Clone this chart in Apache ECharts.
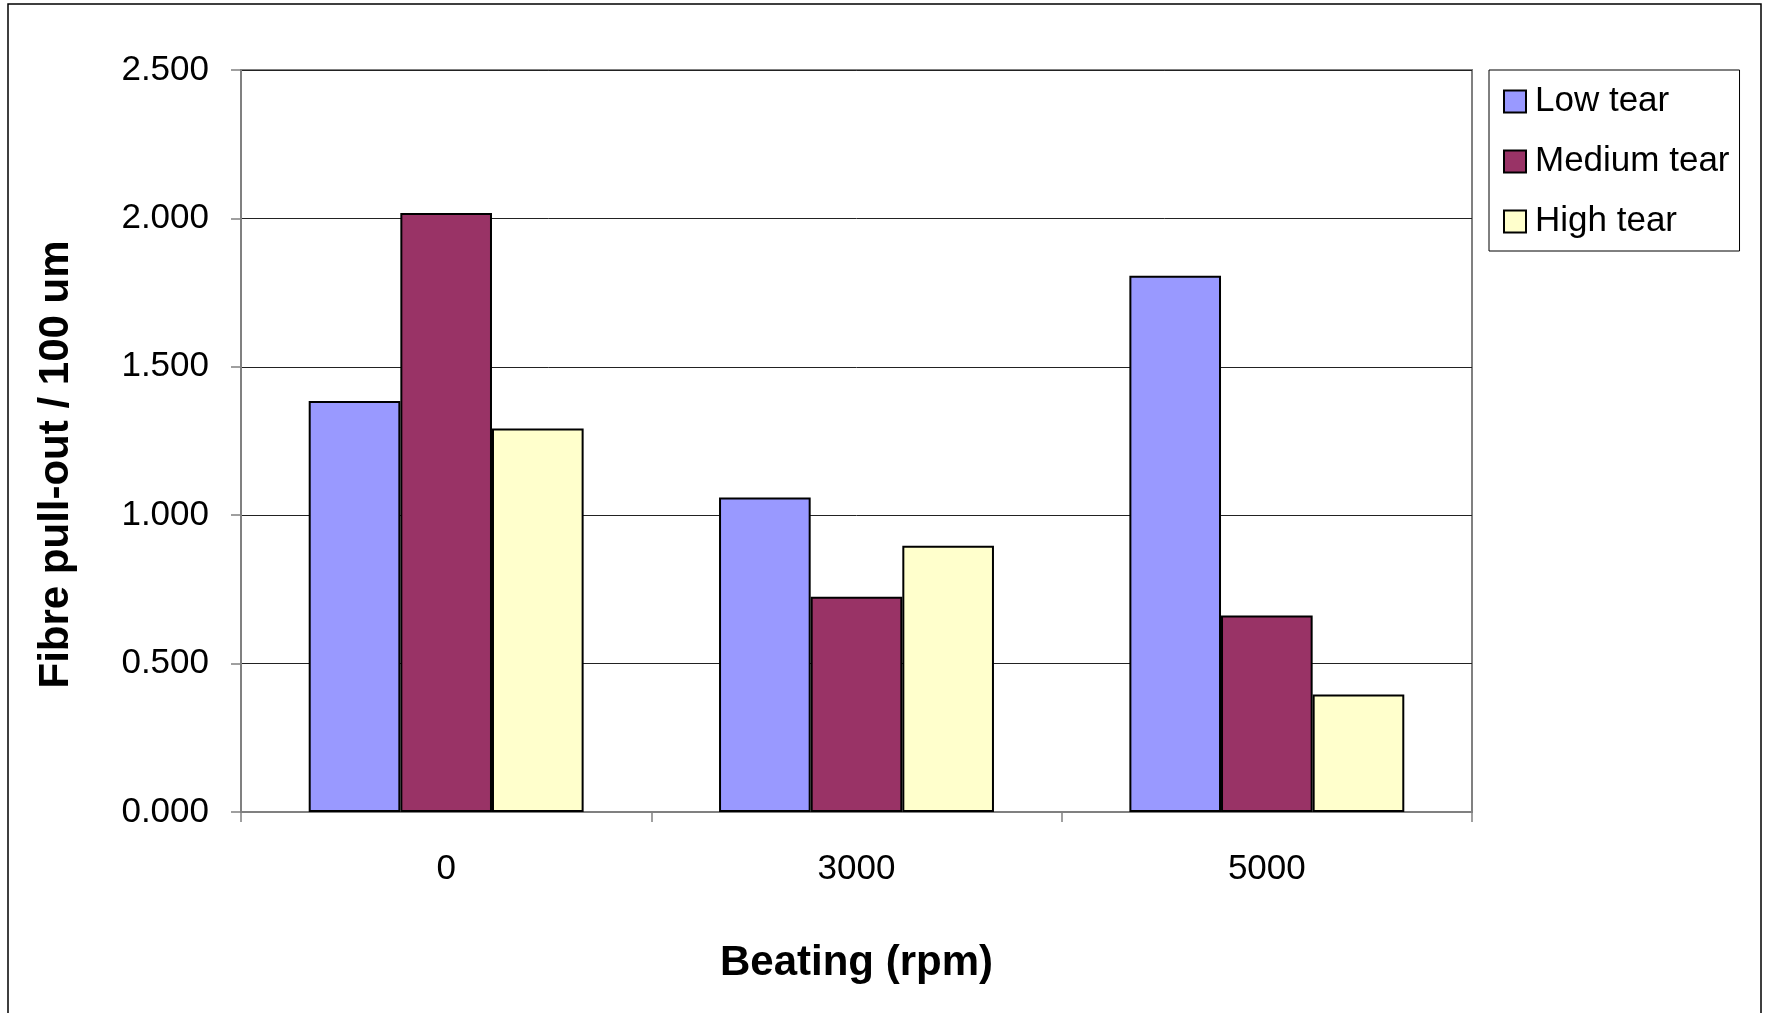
<!DOCTYPE html>
<html lang="en">
<head>
    <meta charset="UTF-8">
    <title>Fibre pull-out</title>
    <script src="https://cdn.jsdelivr.net/npm/echarts@6/dist/echarts.min.js"></script>
    <style>
        html, body { margin: 0; padding: 0; background: #fff; }
    </style>
</head>
<body>
    <div id="main" style="width:1768px;height:1013px;"></div>
    <script>
    // beating speeds (rpm)
    var categories = ['0', '3000', '5000'];
    var lowTear = [1.385, 1.060, 1.807];
    var mediumTear = [2.018, 0.725, 0.662];
    var highTear = [1.292, 0.897, 0.396];
    var yTicks = { min: 0, max: 2.5, interval: 0.5 };

    var font = 'Liberation Sans';

    function barSeries(name, data, color) {
        return {
            name: name,
            type: 'bar',
            data: data,
            barGap: '0%',
            barCategoryGap: '33%',
            itemStyle: { color: color, borderColor: '#000', borderWidth: 2 }
        };
    }

    var myChart = echarts.init(document.getElementById('main'));
    myChart.setOption({
        animation: false,
        backgroundColor: '#fff',
        textStyle: { fontFamily: font },
        graphic: [{
            type: 'rect',
            shape: { x: 8, y: 4, width: 1753, height: 1100 },
            style: { fill: 'none', stroke: '#000', lineWidth: 1.5 },
            silent: true
        }],
        grid: {
            left: 241, right: 296, top: 70, bottom: 201,
            show: true, borderColor: '#808080', borderWidth: 2,
            outerBoundsMode: 'none'
        },
        legend: {
            orient: 'vertical',
            left: 1489, top: 70,
            padding: [14, 10, 12, 14],
            icon: 'rect',
            itemWidth: 22, itemHeight: 22, itemGap: 25,
            borderColor: '#000', borderWidth: 1,
            textStyle: { fontSize: 35, color: '#000', fontFamily: font, padding: [0, 0, 0, 4] },
            data: ['Low tear', 'Medium tear', 'High tear']
        },
        xAxis: {
            type: 'category',
            data: categories,
            name: 'Beating (rpm)',
            nameLocation: 'middle',
            nameGap: 130,
            nameTextStyle: { fontSize: 42, fontWeight: 'bold', color: '#000', fontFamily: font },
            axisLine: { lineStyle: { color: '#808080', width: 2 } },
            axisTick: { show: true, length: 10, alignWithLabel: false, lineStyle: { color: '#808080', width: 1.5 } },
            axisLabel: { fontSize: 35, color: '#000', margin: 40, fontFamily: font },
            splitLine: { show: false }
        },
        yAxis: {
            type: 'value',
            min: yTicks.min, max: yTicks.max, interval: yTicks.interval,
            name: 'Fibre pull-out / 100 um',
            nameLocation: 'middle',
            nameGap: 164,
            nameTextStyle: { fontSize: 42, fontWeight: 'bold', color: '#000', fontFamily: font, padding: [0, 47, 0, 0] },
            axisLine: { show: true, lineStyle: { color: '#808080', width: 2 } },
            axisTick: { show: true, length: 10, lineStyle: { color: '#808080', width: 1.5 } },
            axisLabel: {
                fontSize: 35, color: '#000', margin: 32, fontFamily: font,
                formatter: function (v) { return v.toFixed(3); }
            },
            splitLine: { show: true, lineStyle: { color: '#222', width: 1 } }
        },
        series: [
            barSeries('Low tear', lowTear, '#9999FF'),
            barSeries('Medium tear', mediumTear, '#993366'),
            barSeries('High tear', highTear, '#FFFFCC')
        ]
    });
    </script>
</body>
</html>
